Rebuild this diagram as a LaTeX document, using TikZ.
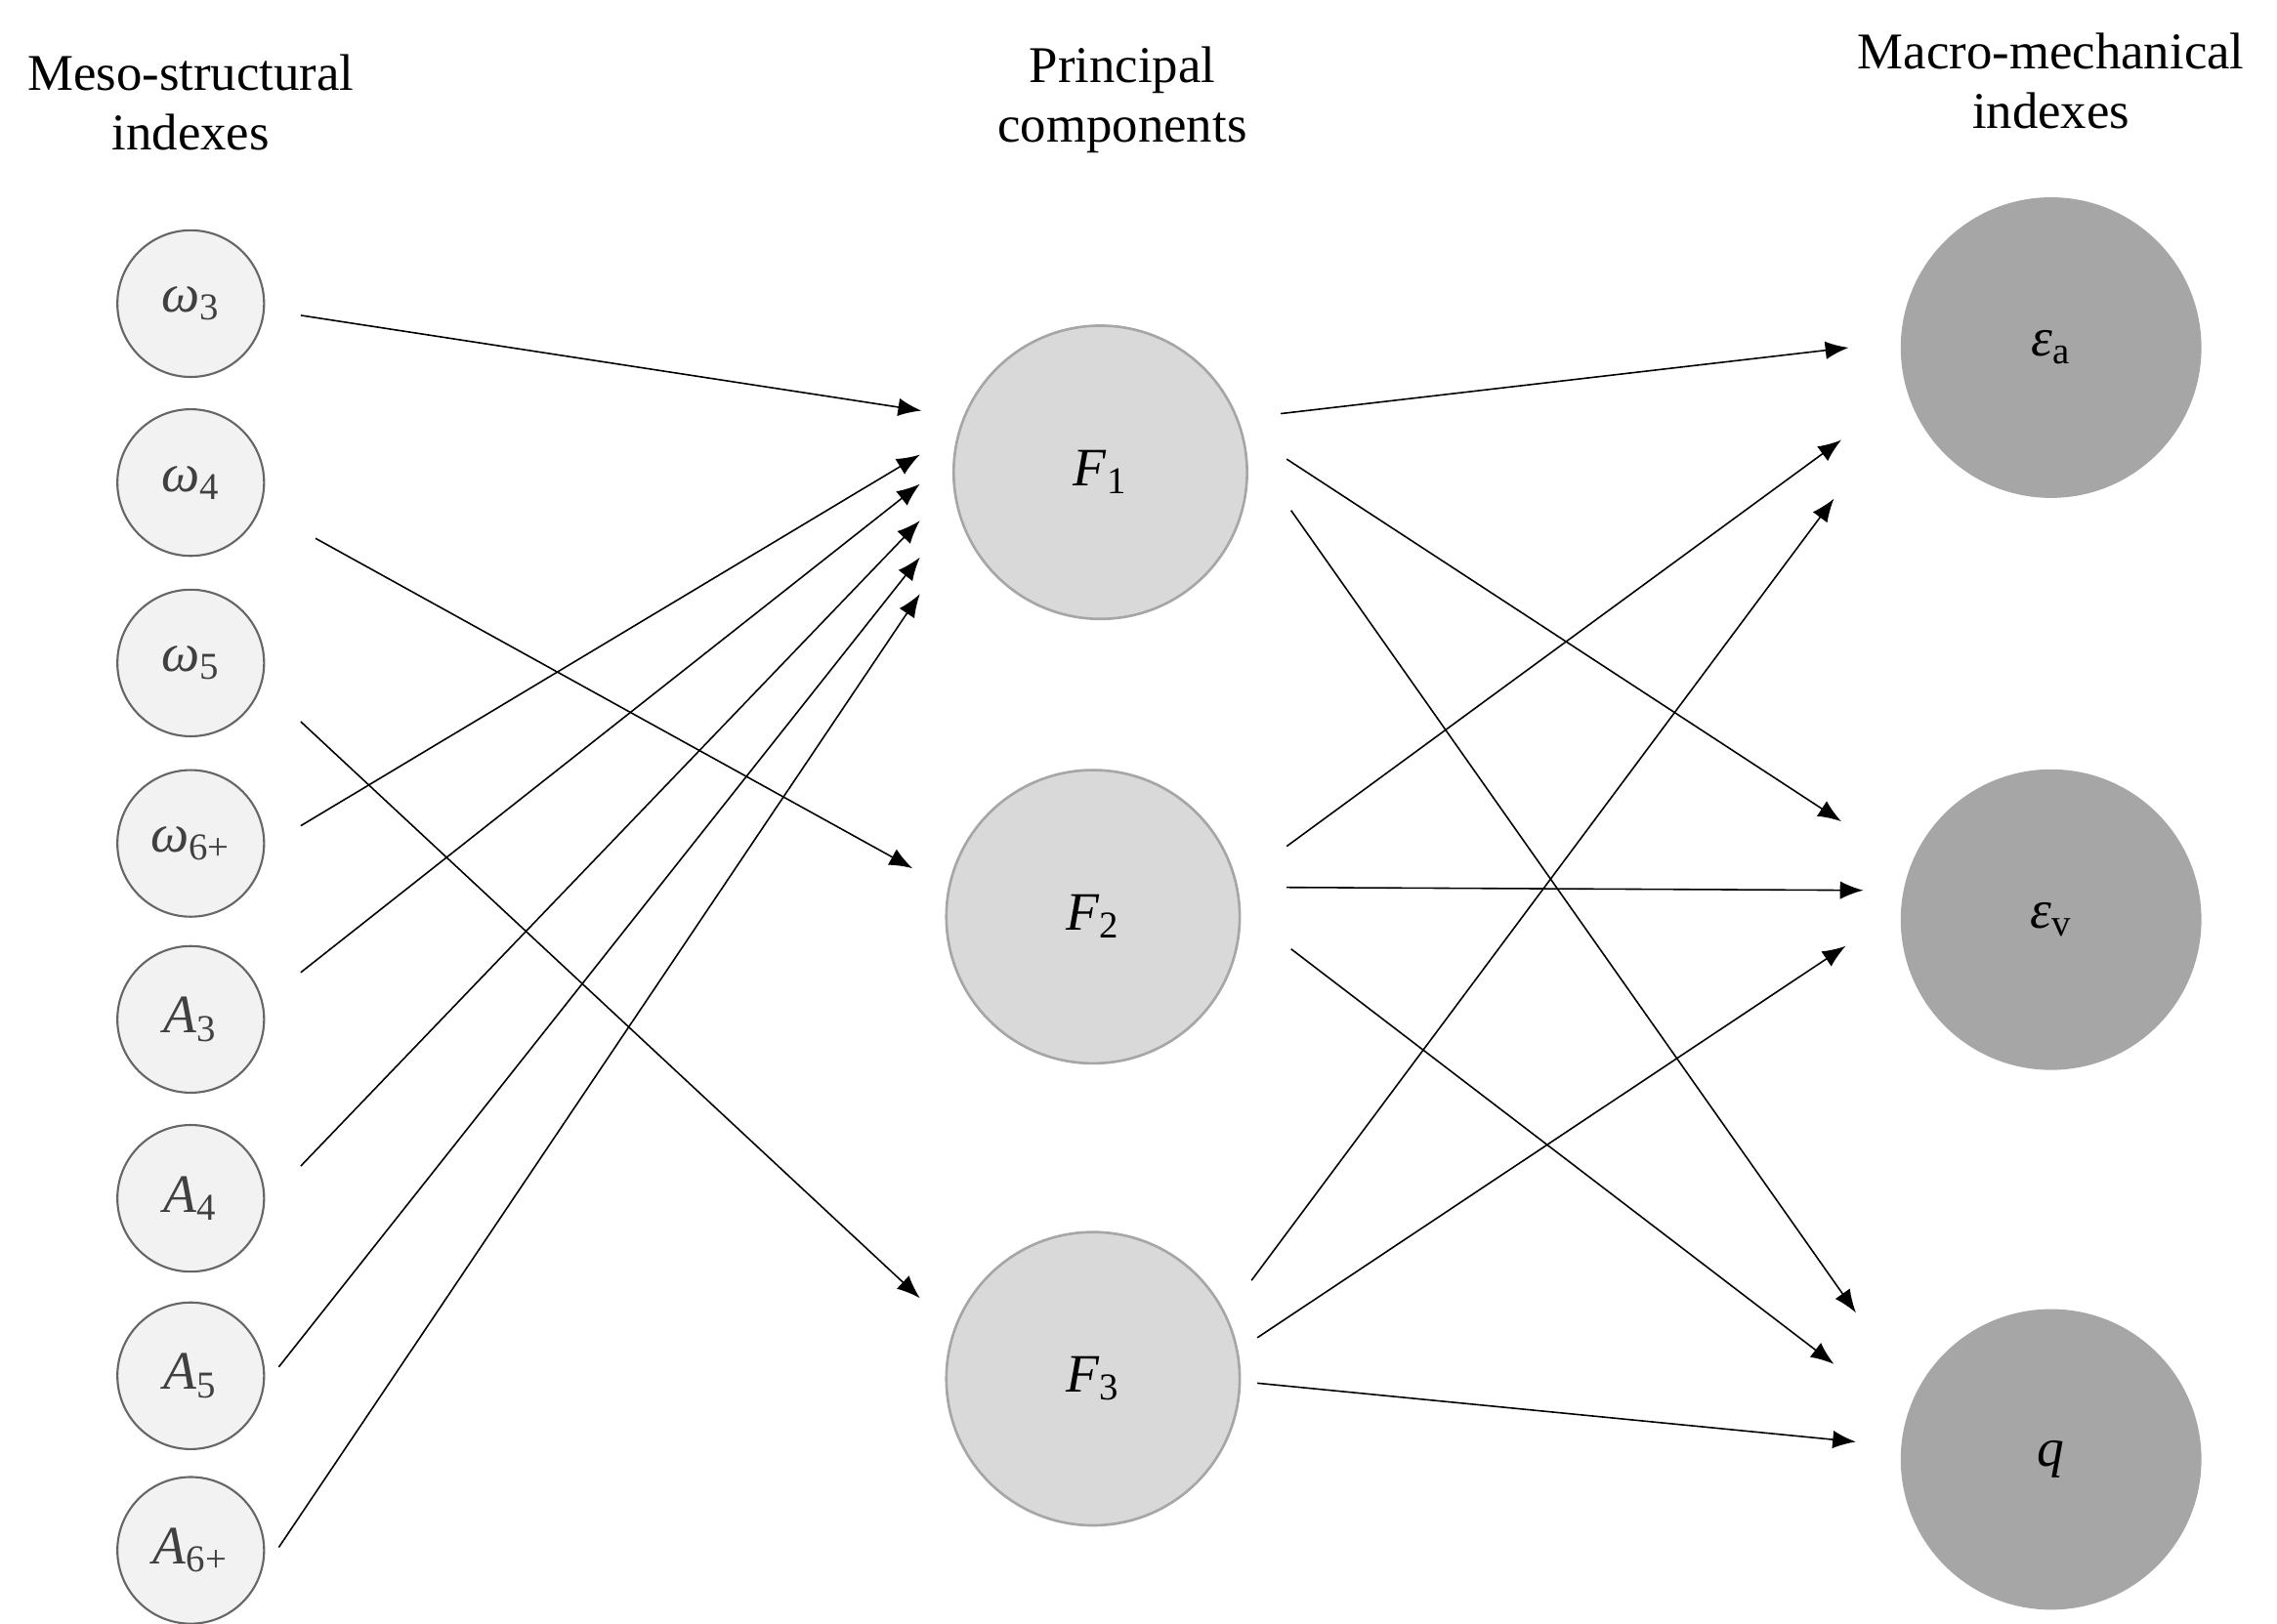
\documentclass[tikz,border=0pt]{standalone}
\usepackage{fontspec}
\setmainfont{Liberation Serif}
\usetikzlibrary{arrows.meta}
\begin{document}
\begin{tikzpicture}[x=0.02cm,y=-0.02cm,
  lab/.style={font=\fontsize{20}{23}\selectfont,align=center},
  leaf/.style={circle,draw=black!60,fill=black!5,line width=0.8pt,minimum size=2cm,font=\fontsize{21}{24}\selectfont,text=black!75},
  pc/.style={circle,draw=black!35,fill=black!15,line width=1pt,minimum size=4cm,font=\fontsize{21}{24}\selectfont},
  mac/.style={circle,fill=black!35,minimum size=4.1cm,font=\fontsize{21}{24}\selectfont},
  arr/.style={-{Latex[length=9pt,width=7pt]},line width=0.6pt}]
\useasboundingbox (0,0) rectangle (1552,1107);
\node[lab] (h1) at (130,70) {Meso-structural\\indexes};
\node[lab] (h2) at (765,68) {Principal\\components};
\node[lab] (h3) at (1398,55) {Macro-mechanical\\indexes};
\node[leaf] (w3) at (130,207) {\textit{ω}\textsubscript{3}};
\node[leaf] (w4) at (130,329) {\textit{ω}\textsubscript{4}};
\node[leaf] (w5) at (130,452) {\textit{ω}\textsubscript{5}};
\node[leaf] (w6) at (130,575) {\textit{ω}\textsubscript{6+}};
\node[leaf] (a3) at (130,695) {\textit{A}\textsubscript{3}};
\node[leaf] (a4) at (130,817) {\textit{A}\textsubscript{4}};
\node[leaf] (a5) at (130,938) {\textit{A}\textsubscript{5}};
\node[leaf] (a6) at (130,1057) {\textit{A}\textsubscript{6+}};
\node[pc] (f1) at (750,322) {\textit{F}\textsubscript{1}};
\node[pc] (f2) at (745,625) {\textit{F}\textsubscript{2}};
\node[pc] (f3) at (745,940) {\textit{F}\textsubscript{3}};
\node[mac] (ea) at (1398,237) {\textit{ε}\textsubscript{a}};
\node[mac] (ev) at (1398,627) {\textit{ε}\textsubscript{v}};
\node[mac] (q) at (1398,995) {\textit{q}};
% endpoints
\foreach \n/\x/\y in {s1/205/215,e1/628/280,s2/215/367,e2/622/592,s3/205/492,e3/627/885,
 s4/205/563,e4/627/310,s5/205/663,e5/627/330,s6/205/795,e6/627/355,s7/190/932,e7/627/380,s8/190/1055,e8/627/405,
 t1/873/282,u1/1260/237,t2/877/313,u2/1255/560,t3/880/348,u3/1265/895,
 t4/877/577,u4/1255/300,t5/877/605,u5/1270/607,t6/880/647,u6/1250/930,
 t7/853/873,u7/1250/340,t8/857/912,u8/1258/645,t9/857/943,u9/1265/983}
 {\coordinate (\n) at (\x,\y);}
\foreach \i in {1,...,8} {\draw[arr] (s\i) -- (e\i);}
\foreach \i in {1,...,9} {\draw[arr] (t\i) -- (u\i);}
\end{tikzpicture}
\end{document}
